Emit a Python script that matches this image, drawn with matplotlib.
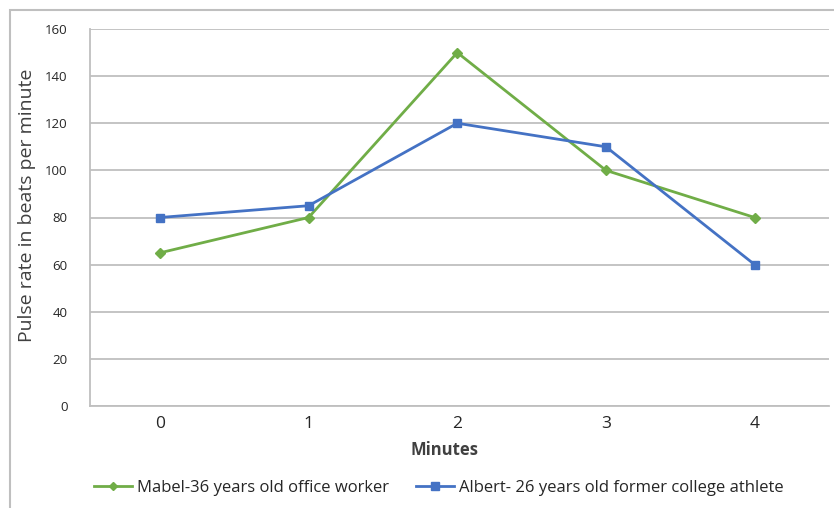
import matplotlib
matplotlib.use('Agg')
import matplotlib.pyplot as plt
from matplotlib.patches import Rectangle
from matplotlib.lines import Line2D

minutes = ['0', '1', '2', '3', '4']
mabel = [65, 80, 150, 100, 80]
albert = [80, 85, 120, 110, 60]
mabel_label = 'Mabel-36 years old office worker'
albert_label = 'Albert- 26 years old former college athlete'

GREEN = '#70AD47'
BLUE = '#4472C4'
TEXT = '#404040'
GRID = '#BFBFBF'

plt.rcParams['font.family'] = ['Open Sans', 'DejaVu Sans']

W, H = 834, 508
fig = plt.figure(figsize=(W / 100, H / 100), dpi=100)
fig.patch.set_facecolor('white')

# outer chart border (runs off the right/bottom edge like the source)
fig.patches.append(Rectangle((10 / W, -0.1), 1.2, (H - 10) / H + 0.1,
                             transform=fig.transFigure, fill=False,
                             edgecolor='#BFBFBF', linewidth=1.5))

ax = fig.add_axes([90 / W, (H - 406) / H, (829 - 90) / W, (406 - 29) / H])
x = list(range(len(minutes)))
ax.plot(x, mabel, color=GREEN, linewidth=2, marker='D', markersize=5)
ax.plot(x, albert, color=BLUE, linewidth=2, marker='s', markersize=6)

ax.set_xlim(-0.47, 4.5)
ax.set_ylim(0, 160)
ax.set_yticks(range(0, 161, 20))
ax.set_xticks(x)
ax.set_xticklabels(minutes)
ax.yaxis.grid(True, color=GRID, linewidth=1.3)
ax.set_axisbelow(True)
for s in ['top', 'right']:
    ax.spines[s].set_visible(False)
for s in ['left', 'bottom']:
    ax.spines[s].set_color(GRID)
    ax.spines[s].set_linewidth(1.3)
ax.tick_params(axis='y', length=0, pad=16, labelsize=9.5, labelcolor='#262626')
ax.tick_params(axis='x', length=0, pad=7, labelsize=12.5, labelcolor='#262626')

fig.text(27 / W, (H - 205) / H, 'Pulse rate in beats per minute', rotation=90,
         ha='center', va='center', fontsize=14, color=TEXT)
fig.text(445 / W, (H - 450) / H, 'Minutes', ha='center', va='center',
         fontsize=12, fontweight='bold', color=TEXT)

handles = [Line2D([], [], color=GREEN, linewidth=2, marker='D', markersize=4.5),
           Line2D([], [], color=BLUE, linewidth=2, marker='s', markersize=5.5)]
fig.legend(handles, [mabel_label, albert_label], loc='center',
           bbox_to_anchor=(439 / W, (H - 488) / H), ncol=2, frameon=False,
           fontsize=12, handlelength=2.3, handletextpad=0.3, columnspacing=1.6,
           labelcolor='#262626')

fig.savefig('out.png', dpi=100)
